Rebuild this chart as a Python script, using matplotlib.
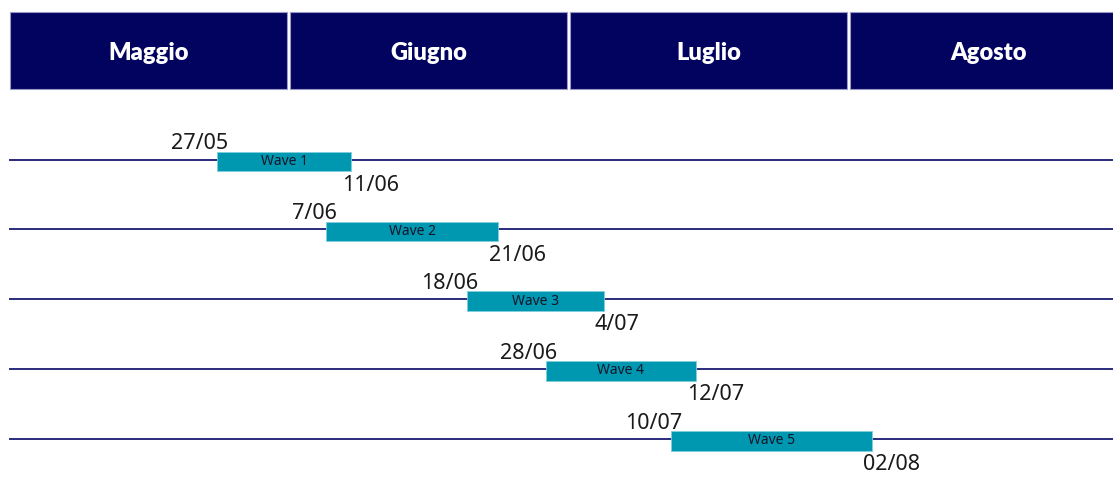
import numpy as np
import matplotlib
matplotlib.use('Agg')
import matplotlib.pyplot as plt

# data (x in month units: 0 = start of Maggio)
months = ['Maggio', 'Giugno', 'Luglio', 'Agosto']
waves = ['Wave 1', 'Wave 2', 'Wave 3', 'Wave 4', 'Wave 5']
start_pos = [0.743, 1.132, 1.635, 1.917, 2.364]
end_pos = [1.222, 1.748, 2.124, 2.454, 3.082]
start_lbl = ['27/05', '7/06', '18/06', '28/06', '10/07']
end_lbl = ['11/06', '21/06', '4/07', '12/07', '02/08']

navy = '#02025f'
teal = '#0097b0'
line_c = '#2b2b7e'

fig = plt.figure(figsize=(11.13, 5), dpi=100)
ax = fig.add_axes([0, 0, 1, 1])
xr = 1104 / 280
ax.set_xlim(-9 / 280, xr)
ax.set_ylim((500 - 159.5) / 69.8, -159.5 / 69.8)
ax.axis('off')

# header
hdr_top = (12 - 159.5) / 69.8
hdr_bot = (89 - 159.5) / 69.8
mi = np.arange(len(months))
ax.bar(mi + 0.004, hdr_bot - hdr_top, width=0.989, bottom=hdr_top, align='edge',
       color=navy, edgecolor='#9a9ac8', linewidth=0.8)
for i, m in enumerate(months):
    ax.text(i + 0.4985, (hdr_top + hdr_bot) / 2 + 0.04, m, ha='center', va='center',
            color='white', fontsize=17, fontweight='heavy', family='Lato')

# rows
rows = np.arange(len(waves))
bh = 0.28
ax.hlines(rows, 0, xr, color=line_c, lw=1.4, zorder=1)

yc = rows + 0.03
ax.barh(yc, np.array(end_pos) - np.array(start_pos), left=start_pos, height=bh,
        color=teal, edgecolor='#7fcfdc', linewidth=0.6, zorder=2)

for i in rows:
    mid = (start_pos[i] + end_pos[i]) / 2
    ax.text(mid, yc[i], waves[i], ha='center', va='center', fontsize=10,
            color='#15152a', family='Noto Sans', zorder=3)
    ax.annotate(start_lbl[i], (start_pos[i], yc[i] - bh / 2), xytext=(8, 1.7),
                textcoords='offset points', ha='right', va='baseline',
                fontsize=15.5, color='#1a1a1a', family='Noto Sans')
    ax.annotate(end_lbl[i], (end_pos[i], yc[i] + bh / 2), xytext=(-6.5, -14),
                textcoords='offset points', ha='left', va='baseline',
                fontsize=15.5, color='#1a1a1a', family='Noto Sans')

fig.savefig('out.png', dpi=100, facecolor='white')
